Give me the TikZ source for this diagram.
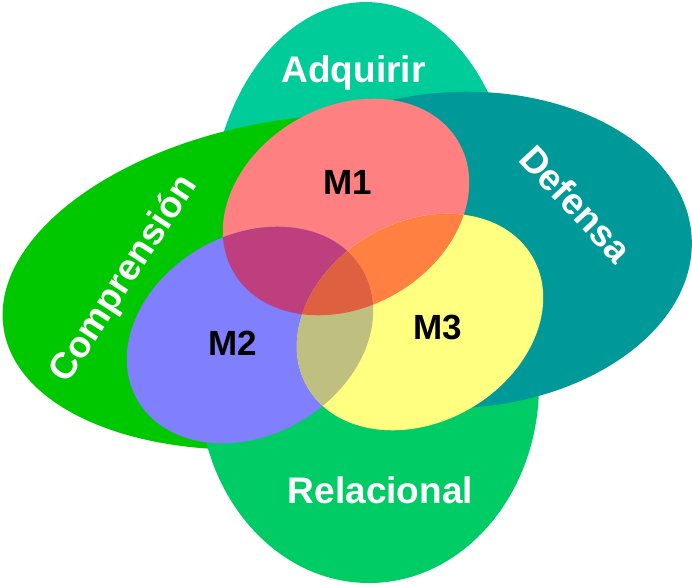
\documentclass[tikz,border=0pt]{standalone}
\usepackage{fontspec}
\setmainfont{Liberation Sans}
\begin{document}
\definecolor{cAdq}{RGB}{0,204,153}
\definecolor{cCom}{RGB}{0,200,0}
\definecolor{cRel}{RGB}{0,204,102}
\definecolor{cDef}{RGB}{0,153,153}
\definecolor{cMone}{RGB}{255,128,128}
\definecolor{cMtwo}{RGB}{128,128,255}
\definecolor{cMthree}{RGB}{255,255,128}
\definecolor{cMonetwo}{RGB}{189,63,126}
\definecolor{cMonethree}{RGB}{255,128,64}
\definecolor{cMtwothree}{RGB}{191,191,128}
\definecolor{cMall}{RGB}{222,96,64}
\begin{tikzpicture}[x=1pt,y=-1pt,
  % placement of the four outer petals
  posAdq/.style={shift={(362,217)},rotate=-2},
  posCom/.style={shift={(300,282)},rotate=9},
  posRel/.style={shift={(369,385)}},
  posDef/.style={shift={(457,250)},rotate=3},
  % placement of the three inner sets
  posMone/.style={shift={(346,207)},rotate=30},
  posMtwo/.style={shift={(250,335)},rotate=30},
  posMthree/.style={shift={(420,322)},rotate=30},
  petaltext/.style={text=white,inner sep=0pt,anchor=base,
    font=\bfseries\fontsize{37}{37}\selectfont},
  settext/.style={text=black,inner sep=0pt,anchor=base,
    font=\bfseries\fontsize{35}{35}\selectfont}]
\fill[white] (0,0) rectangle (692,585);
\useasboundingbox (0,0) rectangle (692,585);

% outer petals
\fill[cAdq,posAdq] (0,0) ellipse [x radius=152pt,y radius=215pt];
\fill[cCom,posCom] (0,0) ellipse [x radius=300pt,y radius=163pt];
\fill[cRel,posRel] (0,0) ellipse [x radius=170pt,y radius=198pt];
\fill[cDef,posDef] (0,0) ellipse [x radius=235pt,y radius=158pt];

% inner sets
\fill[cMone,posMone] (0,0) ellipse [x radius=130pt,y radius=100pt];
\fill[cMtwo,posMtwo] (0,0) ellipse [x radius=130pt,y radius=100pt];
\fill[cMthree,posMthree] (0,0) ellipse [x radius=130pt,y radius=100pt];

% pairwise overlaps
\begin{scope}
  \clip[posMone] (0,0) ellipse [x radius=130pt,y radius=100pt];
  \fill[cMonetwo,posMtwo] (0,0) ellipse [x radius=130pt,y radius=100pt];
  \fill[cMonethree,posMthree] (0,0) ellipse [x radius=130pt,y radius=100pt];
\end{scope}
\begin{scope}
  \clip[posMtwo] (0,0) ellipse [x radius=130pt,y radius=100pt];
  \fill[cMtwothree,posMthree] (0,0) ellipse [x radius=130pt,y radius=100pt];
\end{scope}
% triple overlap
\begin{scope}
  \clip[posMone] (0,0) ellipse [x radius=130pt,y radius=100pt];
  \clip[posMtwo] (0,0) ellipse [x radius=130pt,y radius=100pt];
  \fill[cMall,posMthree] (0,0) ellipse [x radius=130pt,y radius=100pt];
\end{scope}

% labels
\node[petaltext] (adq) at (353.5,83) {Adquirir};
\node[petaltext] (rel) at (380.5,503) {Relacional};
\node[petaltext,rotate=57] (com) at (132.7,284.5) {Comprensión};
\node[petaltext,rotate=-47] (def) at (566.6,212.8) {Defensa};
\node[settext] (mone) at (348,195) {M1};
\node[settext] (mtwo) at (232.5,355) {M2};
\node[settext] (mthree) at (438,339) {M3};
\end{tikzpicture}
\end{document}
